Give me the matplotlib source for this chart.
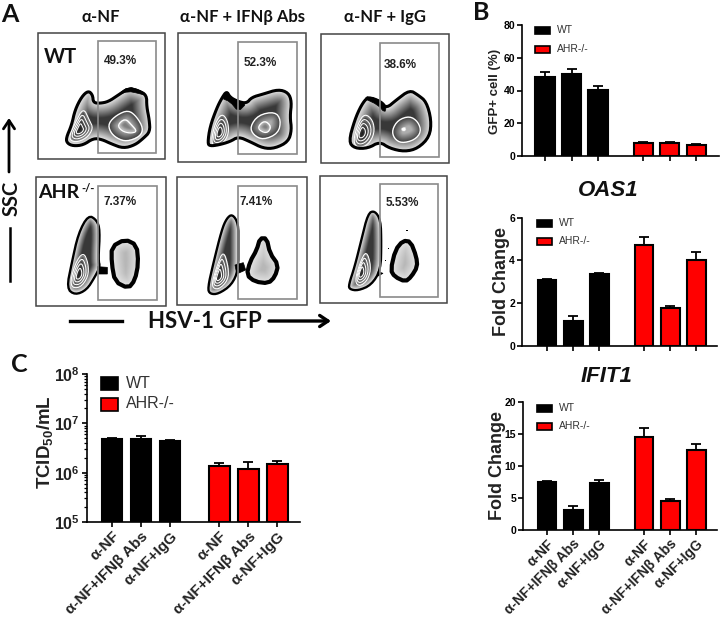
import numpy as np
import matplotlib
matplotlib.use("Agg")
import matplotlib.pyplot as plt
from matplotlib.path import Path
from matplotlib.patches import Rectangle, Polygon

ARIAL = ['Liberation Sans']
LATO = ['Lato', 'DejaVu Sans']
plt.rcParams['font.family'] = ['Liberation Sans', 'DejaVu Sans']
plt.rcParams['mathtext.fontset'] = 'custom'
plt.rcParams['mathtext.bf'] = 'Liberation Sans:bold'
plt.rcParams['mathtext.rm'] = 'Liberation Sans:bold'
plt.rcParams['mathtext.default'] = 'bf'

# ---------- bar data ----------
tick_labels = ['α-NF', 'α-NF+IFNβ Abs', 'α-NF+IgG', 'α-NF', 'α-NF+IFNβ Abs', 'α-NF+IgG']
positions = [0, 1, 2, 3.7, 4.7, 5.7]
bar_colors = ['black'] * 3 + ['#ff0000'] * 3

gfp_values = [48, 50, 40.5, 8, 8, 7]
gfp_errors = [3, 3, 2.5, 0.3, 0.3, 0.3]
oas1_values = [3.08, 1.18, 3.38, 4.7, 1.8, 4.0]
oas1_errors = [0.05, 0.2, 0.05, 0.42, 0.05, 0.4]
ifit1_values = [7.5, 3.1, 7.4, 14.6, 4.6, 12.5]
ifit1_errors = [0.1, 0.7, 0.35, 1.4, 0.2, 1.0]
tcid_values = [4.74e6, 4.8e6, 4.3e6, 1.36e6, 1.17e6, 1.52e6]
tcid_upper = [5.0e6, 5.45e6, 4.5e6, 1.57e6, 1.64e6, 1.75e6]

# ---------- flow panels (outlines) ----------
column_titles = ['α-NF', 'α-NF + IFNβ Abs', 'α-NF + IgG']
percent_labels = ['49.3%', '52.3%', '38.6%', '7.37%', '7.41%', '5.53%']

panel_percent_xy = [(120, 61), (260, 63), (400, 65), (120, 202), (256, 202), (402, 203)]
panel_frames = [(38, 33, 165, 159), (178, 33, 306, 162), (321, 34, 449, 163),
                (36, 177, 166, 306), (177, 177, 307, 305), (320, 176, 447, 303)]
panel_gates = [(98, 41, 156, 153), (238, 42, 297, 154), (380, 43, 439, 157),
               (98, 186, 157, 300), (238, 186, 297, 299), (380, 184, 438, 297)]

wt_outlines = [
    (30, 70, [(108,205),(125,165),(135,120),(155,80),(175,62),(188,75),(190,98),(210,100),(235,95),(265,75),(295,55),(325,62),(350,75),(350,110),(358,150),(360,185),(340,205),(315,225),(280,235),(245,222),(215,208),(190,205),(160,225),(130,228),(112,220)]),
    (175, 20, [(98,370),(105,320),(125,265),(140,235),(155,213),(165,232),(190,245),(215,250),(230,232),(265,222),(310,208),(340,218),(350,245),(345,290),(350,330),(340,365),(300,385),(265,385),(225,365),(190,350),(165,365),(130,375),(105,378)]),
    (318, 20, [(92,365),(110,300),(130,255),(150,230),(190,245),(205,265),(235,240),(275,210),(300,225),(325,245),(340,300),(335,350),(300,385),(260,395),(215,385),(185,365),(150,385),(110,385)]),
]
wt_left = [
    (30, 70, (148,180), [(115,205),(135,160),(160,112),(178,150),(190,175),(170,205),(135,218)]),
    (175, 20, (133,338), [(108,365),(120,310),(140,280),(158,300),(162,340),(145,370),(120,380)]),
    (318, 20, (130,340), [(105,365),(120,310),(140,280),(165,300),(170,340),(150,375),(120,385)]),
]
wt_right = [
    (30, 70, [(235,160),(260,135),(295,120),(320,140),(340,175),(330,200),(290,215),(260,205),(240,185)]),
    (175, 20, [(225,320),(250,285),(300,275),(318,300),(310,340),(265,360),(235,345)]),
    (318, 20, [(222,330),(240,300),(275,288),(300,305),(310,335),(290,360),(250,370),(228,355)]),
]
wt_inner = [
    (30, 70, [(262,165),(285,145),(305,165),(322,185),(300,190),(275,183)]),
    (175, 20, [(245,325),(268,300),(290,320),(275,342)]),
    (318, 20, [(248,325),(262,318),(265,330),(255,335)]),
]
wt_black = [
    (30, 70, [(262,75),(295,50),(330,60),(352,78),(325,70),(295,64)]),
    (175, 20, [(140,235),(155,211),(167,232),(190,245),(215,250),(190,275),(165,245)]),
    (318, 20, [(140,236),(150,228),(190,243),(205,262),(200,278),(180,255)]),
]

ko_left = [
    (0, 0, [(200,865),(215,790),(235,700),(265,645),(290,660),(300,690),(295,780),(300,800),(285,830),(260,870),(225,885)]),
    (175, 170, [(98,355),(115,280),(140,180),(155,145),(172,132),(190,160),(190,220),(190,300),(170,345),(130,372),(105,372)]),
    (318, 170, [(92,345),(110,290),(130,210),(150,130),(170,122),(188,150),(190,220),(188,300),(160,345),(120,362),(95,358)]),
]
ko_contour = [
    (0, 0, (236,825), [(208,860),(225,790),(250,755),(265,790),(265,830),(240,865)]),
    (175, 170, (130,320), [(108,350),(125,290),(145,240),(160,290),(160,330),(130,360)]),
    (318, 170, (128,310), [(110,335),(125,280),(145,240),(160,290),(150,330),(125,350)]),
]
ko_right = [
    (0, 0, [(335,740),(375,718),(410,735),(415,790),(405,840),(385,865),(345,845),(335,790)]),
    (175, 170, [(215,315),(225,275),(245,240),(255,205),(275,205),(285,250),(310,285),(300,320),(280,340),(240,335)]),
    (318, 170, [(218,300),(232,240),(255,212),(278,215),(295,260),(298,290),(280,320),(262,335),(230,320)]),
]
ko_bridge = [
    (0, 0, [(292,800),(322,802),(322,822),(292,822)]),
    (175, 170, [(180,285),(205,278),(212,300),(185,312)]),
    (318, 170, [(180,305),(195,310),(180,318)]),
]
ko_dots = [(318, 170, [(267,180),(212,236),(203,270)])]
shrink_levels = [1.0, 0.76, 0.54, 0.32]

W, H = 720, 626
fig = plt.figure(figsize=(W / 100, H / 100), dpi=100, facecolor='white')
ov = fig.add_axes([0, 0, 1, 1], zorder=0)
ov.set_xlim(0, W)
ov.set_ylim(H, 0)
ov.axis('off')


def to_px(ox, oy, pts):
    return np.array([(ox + x / 3, oy + y / 3) for x, y in pts], float)


def chaikin(p, n=2):
    for _ in range(n):
        q = np.roll(p, -1, axis=0)
        p = np.column_stack([0.75 * p + 0.25 * q, 0.25 * p + 0.75 * q]).reshape(-1, 2)
    return p


def fill(poly, edge, inner, depth, z):
    x0, y0 = poly.min(0) - 1
    x1, y1 = poly.max(0) + 1
    xs = np.arange(x0, x1, 0.5)
    ys = np.arange(y0, y1, 0.5)
    gx, gy = np.meshgrid(xs, ys)
    pts = np.column_stack([gx.ravel(), gy.ravel()])
    mask = Path(poly).contains_points(pts).reshape(gx.shape)
    b = np.roll(poly, -1, axis=0)
    d = np.full(gx.shape, 1e9)
    for s, e in zip(poly, b):
        v = e - s
        t = np.clip(((gx - s[0]) * v[0] + (gy - s[1]) * v[1]) / max((v ** 2).sum(), 1e-9), 0, 1)
        d = np.minimum(d, np.hypot(gx - s[0] - t * v[0], gy - s[1] - t * v[1]))
    g = edge + (inner - edge) * np.clip(d / depth, 0, 1)
    rgba = np.dstack([g, g, g, mask.astype(float)])
    ov.imshow(rgba, extent=(xs[0], xs[-1], ys[-1], ys[0]), origin='upper',
              aspect='auto', zorder=z, interpolation='bilinear')


def line(poly, color, lw, z):
    ov.add_patch(Polygon(poly, closed=True, fill=False, ec=color, lw=lw, zorder=z, joinstyle='round'))


def nested(ox, oy, center, pts, z):
    c = np.array([ox + center[0] / 3, oy + center[1] / 3])
    base = chaikin(to_px(ox, oy, pts))
    for i, k in enumerate(shrink_levels):
        poly = c + (base - c) * k
        fill(poly, 0.62 - 0.12 * i, 0.16 - 0.04 * i, 4, z + i)
        line(poly, 'white', 0.75, z + i + 0.5)


for (x0, y0, x1, y1) in panel_frames:
    ov.add_patch(Rectangle((x0, y0), x1 - x0, y1 - y0, fill=False, ec='#444444', lw=1.1, zorder=1))

for i in range(3):
    ox, oy, pts = wt_outlines[i]
    poly = chaikin(to_px(ox, oy, pts))
    fill(poly, 0.92, 0.22, 15, 2)
    lox, loy, lc, lp = wt_left[i]
    nested(lox, loy, lc, lp, 3)
    rx, ry, rp = wt_right[i]
    rpoly = chaikin(to_px(rx, ry, rp))
    fill(rpoly, 0.25, 0.68, 9, 8)
    line(rpoly, 'white', 1.0, 8.5)
    ix, iy, ip = wt_inner[i]
    ipoly = chaikin(to_px(ix, iy, ip))
    if i == 2:
        fill(ipoly, 1.0, 1.0, 3, 9)
    else:
        fill(ipoly, 0.78, 0.5, 4, 9)
        line(ipoly, 'white', 0.9, 9.5)
    line(poly, 'black', 2.2, 10)
    bx, by, bp = wt_black[i]
    ov.add_patch(Polygon(chaikin(to_px(bx, by, bp), 1), closed=True, fc='black', ec='black', lw=0.5, zorder=10))

for i in range(3):
    ox, oy, pts = ko_left[i]
    poly = chaikin(to_px(ox, oy, pts))
    fill(poly, 0.95, 0.22, 8, 2)
    cx, cy, cc, cp = ko_contour[i]
    nested(cx, cy, cc, cp, 3)
    line(poly, 'black', 1.7, 10)
    rx, ry, rp = ko_right[i]
    rpoly = chaikin(to_px(rx, ry, rp), 1)
    fill(rpoly, 0.90, 0.72, 12, 2)
    line(rpoly, 'black', 3.0, 10)
    bx, by, bp = ko_bridge[i]
    ov.add_patch(Polygon(to_px(bx, by, bp), closed=True, fc='black', ec='black', lw=0.5, zorder=10))
for ox, oy, pts in ko_dots:
    for x, y in to_px(ox, oy, pts):
        ov.add_patch(Rectangle((x - 0.8, y - 0.5), 1.6, 1.0, fc='black', ec='none', zorder=10))

for (x0, y0, x1, y1) in panel_gates:
    ov.add_patch(Rectangle((x0, y0), x1 - x0, y1 - y0, fill=False, ec='#8a8a8a', lw=1.2, zorder=12))

for x, t in zip([101, 242, 385], column_titles):
    ov.text(x, 17, t, family=LATO, weight='bold', fontsize=12, ha='center', va='center', color='#111111', zorder=20)
for (x, y), t in zip(panel_percent_xy, percent_labels):
    ov.text(x, y, t, family=ARIAL, weight='bold', fontsize=8.5, ha='center', va='center', color='#222222', zorder=20)
ov.text(44, 57, 'WT', family=LATO, weight='bold', fontsize=14.5, ha='left', va='center', color='#111111', zorder=20)
ov.text(38, 193, 'AHR', family=LATO, weight='bold', fontsize=14, ha='left', va='center', color='#111111', zorder=20)
ov.text(81, 189, '-/-', family=LATO, weight='bold', fontsize=8, ha='left', va='center', color='#111111', zorder=20)
ov.text(1, 14, 'A', family=LATO, weight='bold', fontsize=18, ha='left', va='center', color='#111111', zorder=20)
ov.text(473, 12, 'B', family=LATO, weight='bold', fontsize=18, ha='left', va='center', color='#111111', zorder=20)
ov.text(11, 365, 'C', family=LATO, weight='bold', fontsize=18, ha='left', va='center', color='#111111', zorder=20)

ov.annotate('', xy=(9, 118), xytext=(9, 172),
            arrowprops=dict(arrowstyle='->,head_width=0.4,head_length=0.6', lw=2.0, color='black', shrinkA=0, shrinkB=0))
ov.plot([10, 10], [228, 281], color='black', lw=1.8)
ov.text(12, 198, 'SSC', family=LATO, weight='bold', fontsize=14.5, rotation=90, ha='center', va='center', color='#111111')
ov.plot([70, 122], [321, 321], color='black', lw=2.4)
ov.text(205, 322, 'HSV-1 GFP', family=LATO, weight='bold', fontsize=16, ha='center', va='center', color='#111111')
ov.annotate('', xy=(331, 321), xytext=(269, 321),
            arrowprops=dict(arrowstyle='->,head_width=0.4,head_length=0.6', lw=2.4, color='black', shrinkA=0, shrinkB=0))


def make_axes(px_left, px_right, px_top, px_bottom, first, unit):
    ax = fig.add_axes([px_left / W, 1 - px_bottom / H, (px_right - px_left) / W, (px_bottom - px_top) / H], zorder=2)
    ax.patch.set_visible(False)
    ax.set_xlim((px_left - first) / unit, (px_right - first) / unit)
    for s in ['top', 'right']:
        ax.spines[s].set_visible(False)
    for s in ['left', 'bottom']:
        ax.spines[s].set_linewidth(1.2)
    ax.set_xticks(positions)
    ax.tick_params(axis='both', width=1.2, length=3.5, pad=1.5)
    return ax


def bars(ax, vals, err, width=0.72, bottom=0):
    for p, v, e, c in zip(positions, vals, err, bar_colors):
        ax.bar(p, v - bottom, width, bottom=bottom, color=c, ec='black', lw=1.5, zorder=2)
        ax.errorbar(p, v, yerr=[[0], [e]], color='black', capsize=3.6, elinewidth=1.3, capthick=1.3, zorder=1)


def bold_yticks(ax, size):
    for l in ax.get_yticklabels():
        l.set_fontweight('bold')
        l.set_fontfamily(ARIAL)
        l.set_fontsize(size)


def set_xlabels(ax, size):
    ax.set_xticklabels(tick_labels, rotation=45, ha='right', rotation_mode='anchor',
                       fontsize=size, fontweight='bold', color='#222222', family=ARIAL)


def legend(x, y1, y2, w, h, fs, tx):
    ov.add_patch(Rectangle((x, y1 - h / 2), w, h, fc='black', ec='black', lw=1.2, zorder=20))
    ov.add_patch(Rectangle((x, y2 - h / 2), w, h, fc='#ff0000', ec='black', lw=1.2, zorder=20))
    ov.text(tx, y1, 'WT', family=ARIAL, fontsize=fs, ha='left', va='center', color='#333333', zorder=20)
    ov.text(tx, y2, 'AHR-/-', family=ARIAL, fontsize=fs, ha='left', va='center', color='#333333', zorder=20)


ax = make_axes(522, 719, 25, 156, 545, 26.5)
bars(ax, gfp_values, gfp_errors)
ax.set_ylim(0, 80)
ax.set_yticks([0, 20, 40, 60, 80])
ax.set_xticklabels([])
bold_yticks(ax, 7.5)
ov.text(495, 91, 'GFP+ cell (%)', family=ARIAL, weight='bold', fontsize=9.5, rotation=90, ha='center', va='center', color='#222222')
legend(535, 30, 49, 15, 7, 7.5, 557)

ov.text(608, 191, 'OAS1', family=ARIAL, weight='bold', style='italic', fontsize=16, ha='center', va='center', color='#111111')
ax = make_axes(522, 717, 217.7, 346, 547, 26.2)
bars(ax, oas1_values, oas1_errors)
ax.set_ylim(0, 6)
ax.set_yticks([0, 2, 4, 6])
ax.set_xticklabels([])
bold_yticks(ax, 7.5)
ov.text(501, 281, 'Fold Change', family=ARIAL, weight='bold', fontsize=13, rotation=90, ha='center', va='center', color='#222222')
legend(537, 223, 241, 15, 7, 7.5, 559)

ov.text(607, 376, 'IFIT1', family=ARIAL, weight='bold', style='italic', fontsize=16, ha='center', va='center', color='#111111')
ax = make_axes(523, 717, 402, 530, 547, 26.2)
bars(ax, ifit1_values, ifit1_errors)
ax.set_ylim(0, 20)
ax.set_yticks([0, 5, 10, 15, 20])
set_xlabels(ax, 10)
bold_yticks(ax, 7.5)
ov.text(497, 466, 'Fold Change', family=ARIAL, weight='bold', fontsize=13, rotation=90, ha='center', va='center', color='#222222')
legend(537, 408, 426, 15, 7, 7.5, 559)

ax = make_axes(87, 300, 374, 522, 112, 29)
ax.set_yscale('log')
ax.set_ylim(1e5, 1e8)
tcid_err = [u - v for u, v in zip(tcid_upper, tcid_values)]
bars(ax, tcid_values, tcid_err, bottom=1e5)
ax.set_xlim((87 - 112) / 29, (300 - 112) / 29)
ax.set_xticks(positions)
set_xlabels(ax, 11)
ax.set_yticks([1e5, 1e6, 1e7, 1e8])
ax.set_yticklabels(['$\\mathbf{10^{5}}$', '$\\mathbf{10^{6}}$', '$\\mathbf{10^{7}}$', '$\\mathbf{10^{8}}$'], fontsize=11.5, color='#222222')
ax.tick_params(axis='y', which='minor', length=2, width=0.9)
ov.text(45, 442, 'TCID$_{\\mathbf{50}}$/mL', family=ARIAL, weight='bold', fontsize=13.5, rotation=90, ha='center', va='center', color='#222222')
legend(101, 383, 404, 17, 13, 11.5, 126)

ov.set_xlim(0, W)
ov.set_ylim(H, 0)
fig.savefig('out.png', dpi=100)
